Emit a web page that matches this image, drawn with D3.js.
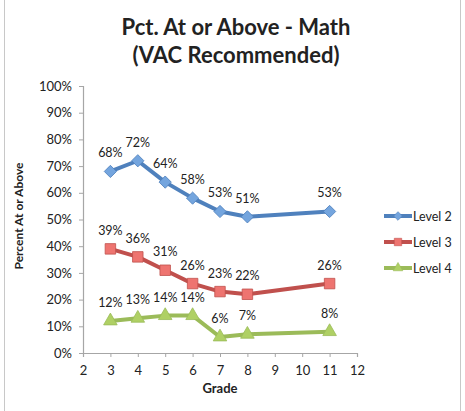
<!DOCTYPE html>
<html>
<head>
<meta charset="utf-8">
<script src="https://cdn.jsdelivr.net/npm/d3@7"></script>
<style>
  body { margin: 0; background: #fff; }
  text { font-family: Lato, "Open Sans", sans-serif; fill: #222; }
</style>
</head>
<body>
<script>
var grades = [3, 4, 5, 6, 7, 8, 11];
var level2 = [68, 72, 64, 58, 53, 51, 53];
var level3 = [39, 36, 31, 26, 23, 22, 26];
var level4 = [12, 13, 14, 14, 6, 7, 8];
var xTicks = [2, 3, 4, 5, 6, 7, 8, 9, 10, 11, 12];
var yTicks = [0, 10, 20, 30, 40, 50, 60, 70, 80, 90, 100];
var titleLines = ["Pct. At or Above - Math", "(VAC Recommended)"];

var width = 465,
    height = 411;

var series = [
  {name: "Level 2", values: level2, color: "#4f81bd", fill: "#74a5de", shape: "diamond"},
  {name: "Level 3", values: level3, color: "#c0504d", fill: "#ee7470", shape: "square"},
  {name: "Level 4", values: level4, color: "#9bbb59", fill: "#afd064", shape: "triangle"}
];

var markerPath = function(shape, scale) {
  if (shape === "diamond") return d3.symbol().type(d3.symbolSquare).size(75 * scale)();
  if (shape === "square") return d3.symbol().type(d3.symbolSquare).size(110 * scale)();
  return d3.symbol().type(d3.symbolTriangle).size(80 * scale)();
};

var svg = d3.select("body").append("svg")
    .attr("width", width)
    .attr("height", height);

// frame
svg.append("rect")
    .attr("x", 4.5).attr("y", -2)
    .attr("width", 456).attr("height", height + 4)
    .attr("fill", "none")
    .attr("stroke", "#c8c8c8");

var x = d3.scaleLinear().domain([2, 12]).range([83, 357]);
var y = d3.scaleLinear().domain([0, 100]).range([353, 86]);

svg.append("g")
    .attr("class", "title")
  .selectAll("text")
    .data(titleLines)
  .enter().append("text")
    .attr("x", 236)
    .attr("y", function(d, i) { return 35 + i * 28; })
    .attr("text-anchor", "middle")
    .style("font-size", "22px")
    .style("font-weight", "bold")
    .text(function(d) { return d; });

var yAxis = svg.append("g")
    .attr("transform", "translate(" + x(2) + ",0)")
    .call(d3.axisLeft(y).tickValues(yTicks).tickSize(4).tickPadding(7)
      .tickFormat(function(d) { return d + "%"; }));

var xAxis = svg.append("g")
    .attr("transform", "translate(0," + y(0) + ")")
    .call(d3.axisBottom(x).tickValues(xTicks).tickSize(4).tickPadding(6)
      .tickFormat(d3.format("d")));

[yAxis, xAxis].forEach(function(a) {
  a.select(".domain").attr("stroke", "#a6a6a6").attr("stroke-width", 1.2);
  a.selectAll(".tick line").attr("stroke", "#a6a6a6");
  a.selectAll(".tick text").style("font-size", "13px").attr("fill", "#222");
});
xAxis.selectAll(".tick text").attr("dy", "0.9em");

svg.append("text")
    .attr("transform", "translate(23,216) rotate(-90)")
    .attr("text-anchor", "middle")
    .style("font-size", "12px")
    .style("font-weight", "bold")
    .text("Percent At or Above");

svg.append("text")
    .attr("x", x(7))
    .attr("y", 393)
    .attr("text-anchor", "middle")
    .style("font-size", "13px")
    .style("font-weight", "bold")
    .text("Grade");

var line = d3.line()
    .x(function(d) { return x(d.g); })
    .y(function(d) { return y(d.v); });

var groups = svg.append("g")
    .attr("class", "g-series")
  .selectAll("g")
    .data(series)
  .enter().append("g");

groups.each(function(s) {
  var g = d3.select(this);
  var pts = grades.map(function(gr, i) { return {g: gr, v: s.values[i]}; });

  g.append("path")
      .attr("d", line(pts))
      .attr("fill", "none")
      .attr("stroke", s.color)
      .attr("stroke-width", 4)
      .attr("stroke-linejoin", "round");

  g.selectAll(".marker")
      .data(pts)
    .enter().append("path")
      .attr("class", "marker")
      .attr("transform", function(d) {
        return "translate(" + x(d.g) + "," + y(d.v) + ")" + (s.shape === "diamond" ? " rotate(45)" : "");
      })
      .attr("d", markerPath(s.shape, 1))
      .attr("fill", s.fill)
      .attr("stroke", s.color)
      .attr("stroke-width", 0.8);

  g.selectAll(".lbl")
      .data(pts)
    .enter().append("text")
      .attr("class", "lbl")
      .attr("x", function(d) { return x(d.g); })
      .attr("y", function(d) { return y(d.v) - 14; })
      .attr("text-anchor", "middle")
      .style("font-size", "12.5px")
      .text(function(d) { return d.v + "%"; });
});

var legend = svg.append("g")
    .attr("class", "legend")
  .selectAll("g")
    .data(series)
  .enter().append("g")
    .attr("transform", function(d, i) { return "translate(384," + (216 + i * 26) + ")"; });

legend.append("line")
    .attr("x1", 0).attr("x2", 28)
    .attr("stroke", function(d) { return d.color; })
    .attr("stroke-width", 4);

legend.append("path")
    .attr("transform", function(d) { return "translate(14,0)" + (d.shape === "diamond" ? " rotate(45)" : ""); })
    .attr("d", function(d) { return markerPath(d.shape, 0.5); })
    .attr("fill", function(d) { return d.fill; })
    .attr("stroke", function(d) { return d.color; })
    .attr("stroke-width", 0.6);

legend.append("text")
    .attr("x", 29)
    .attr("y", 4.5)
    .style("font-size", "12.5px")
    .text(function(d) { return d.name; });
</script>
</body>
</html>
